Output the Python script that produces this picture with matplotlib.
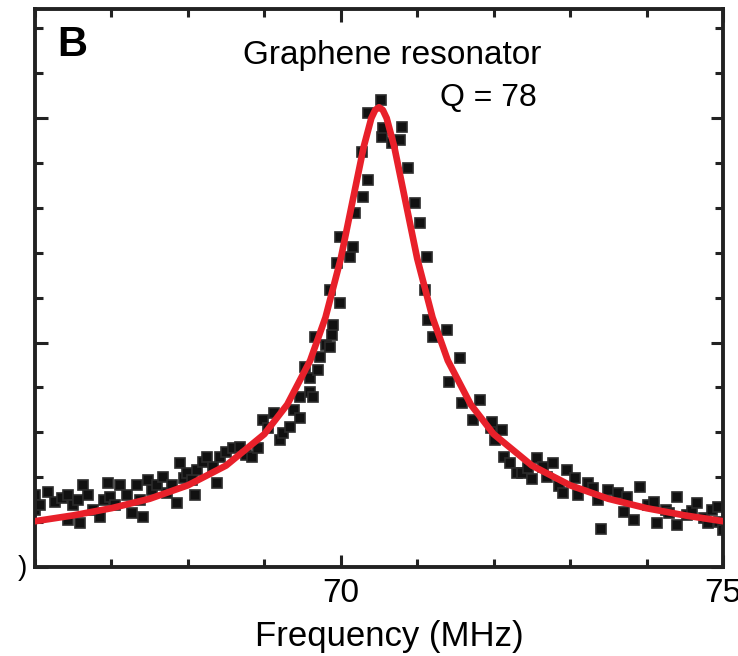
import matplotlib
matplotlib.use("Agg")
import matplotlib.pyplot as plt
from matplotlib.ticker import MultipleLocator, FixedLocator

plt.rcParams['font.family'] = ['Liberation Sans', 'DejaVu Sans']

freq_mhz = [66.00, 66.00, 66.07, 66.17, 66.26, 66.35, 66.43, 66.43, 66.50, 66.56,
            66.59, 66.63, 66.69, 66.76, 66.85, 66.90, 66.96, 66.98, 67.05, 67.11,
            67.20, 67.27, 67.34, 67.37, 67.41, 67.48, 67.53, 67.60, 67.68, 67.73,
            67.79, 67.86, 67.90, 67.95, 67.99, 68.05, 68.09, 68.12, 68.20, 68.25,
            68.33, 68.38, 68.42, 68.50, 68.59, 68.68, 68.76, 68.84, 68.92, 68.98,
            69.05, 69.12, 69.21, 69.25, 69.34, 69.39, 69.47, 69.47, 69.53, 69.60,
            69.60, 69.64, 69.66, 69.70, 69.73, 69.81, 69.86, 69.86, 69.89, 69.90,
            69.95, 69.99, 69.99, 70.12, 70.16, 70.19, 70.28, 70.29, 70.35, 70.35,
            70.52, 70.54, 70.55, 70.67, 70.78, 70.80, 70.88, 70.97, 71.04, 71.10,
            71.13, 71.14, 71.20, 71.39, 71.41, 71.56, 71.59, 71.73, 71.82, 71.96,
            71.98, 72.02, 72.11, 72.13, 72.22, 72.31, 72.37, 72.45, 72.50, 72.57,
            72.65, 72.70, 72.77, 72.85, 72.91, 72.96, 73.07, 73.10, 73.23, 73.30,
            73.36, 73.40, 73.50, 73.62, 73.70, 73.75, 73.83, 73.92, 74.02, 74.10,
            74.14, 74.25, 74.30, 74.40, 74.40, 74.53, 74.60, 74.66, 74.75, 74.80,
            74.86, 74.93, 74.95, 75.00]
amplitude = [1.60, 1.27, 1.38, 1.67, 1.45, 1.54, 1.60, 1.05, 1.38, 1.49,
             0.98, 1.83, 1.60, 1.27, 1.11, 1.49, 1.87, 1.56, 1.38, 1.83,
             1.60, 1.20, 1.83, 1.49, 1.11, 1.94, 1.71, 1.83, 2.00, 1.65,
             1.83, 1.43, 2.32, 1.98, 2.09, 1.94, 1.60, 2.16, 2.34, 2.45,
             2.23, 1.87, 2.45, 2.56, 2.65, 2.67, 2.49, 2.45, 2.65, 3.27,
             3.10, 3.43, 2.83, 2.98, 3.12, 3.50, 3.32, 3.79, 4.45, 4.21,
             3.90, 3.79, 5.12, 4.39, 4.68, 4.94, 4.90, 6.17, 5.17, 5.39,
             6.77, 5.88, 7.35, 6.90, 7.13, 7.88, 9.24, 8.24, 8.62, 10.11,
             10.40, 9.58, 9.78, 9.44, 9.51, 9.80, 8.89, 8.11, 7.66, 6.17,
             6.90, 5.50, 5.12, 5.28, 4.12, 4.65, 3.65, 3.27, 3.72, 3.10,
             3.23, 2.83, 3.05, 2.45, 2.32, 2.09, 2.09, 2.20, 1.95, 2.43,
             2.23, 2.00, 2.32, 1.80, 1.65, 2.16, 1.98, 1.60, 1.87, 1.75,
             1.49, 0.85, 1.71, 1.65, 1.22, 1.55, 1.05, 1.78, 1.38, 1.45,
             0.98, 1.27, 1.20, 1.56, 0.94, 1.16, 1.25, 1.43, 1.10, 0.98,
             1.27, 1.34, 1.00, 0.82]

# --- courbe d'ajustement ---
fit_freq = [66.0, 66.5, 67.0, 67.5, 68.0, 68.5, 69.0, 69.3, 69.6, 69.8,
            70.0, 70.1, 70.2, 70.3, 70.4, 70.45, 70.5, 70.55, 70.6, 70.7,
            70.8, 70.9, 71.0, 71.2, 71.4, 71.7, 72.0, 72.5, 73.0, 73.5,
            74.0, 74.5, 75.0]
fit_amp = [1.02, 1.15, 1.31, 1.52, 1.82, 2.26, 2.96, 3.62, 4.60, 5.56,
           6.87, 7.70, 8.53, 9.36, 10.00, 10.18, 10.24, 10.18, 10.00, 9.36,
           8.53, 7.70, 6.87, 5.56, 4.60, 3.62, 2.96, 2.26, 1.82, 1.52,
           1.31, 1.15, 1.02]

x_labels = ["70", "75"]

fig = plt.figure(figsize=(7.38, 6.56), dpi=100)
ax = fig.add_axes([35/738, 89/656, 688/738, 558/656])

ax.plot(freq_mhz, amplitude, 's', ms=7, mfc='#111111', mec='#2b2b2b', mew=1.2, zorder=2)
ax.plot(fit_freq, fit_amp, '-', color='#e8202a', lw=4.8, zorder=3, solid_capstyle='round')

ax.set_xlim(66, 75)
ax.set_ylim(0, 12.43)

ax.xaxis.set_major_locator(FixedLocator([70, 75]))
ax.set_xticklabels(x_labels)
ax.xaxis.set_minor_locator(MultipleLocator(1))
ax.yaxis.set_major_locator(MultipleLocator(5))
ax.yaxis.set_minor_locator(MultipleLocator(1))
ax.set_yticklabels([])

ax.tick_params(which='both', direction='in', top=True, right=True, color='#222222', width=2.2)
ax.tick_params(which='major', length=9, labelsize=24, pad=8)
ax.tick_params(which='minor', length=5.5)
for s in ax.spines.values():
    s.set_linewidth(2.8)
    s.set_color('#222222')

ax.set_xlabel("Frequency (MHz)", fontsize=25, labelpad=6)
ax.xaxis.set_label_coords(0.515, -0.095)

ax.text(66.29, 12.07, "B", fontsize=30, fontweight='bold', va='top', ha='left')
ax.text(68.72, 11.75, "Graphene resonator", fontsize=24, va='top', ha='left')
ax.text(71.30, 10.78, "Q = 78", fontsize=23, va='top', ha='left')

# reste du libellé "0" coupé à gauche
fig.text(18/738, 1 - 568/656, ")", fontsize=20, va='center', ha='left')

fig.savefig("out.png", dpi=100)
